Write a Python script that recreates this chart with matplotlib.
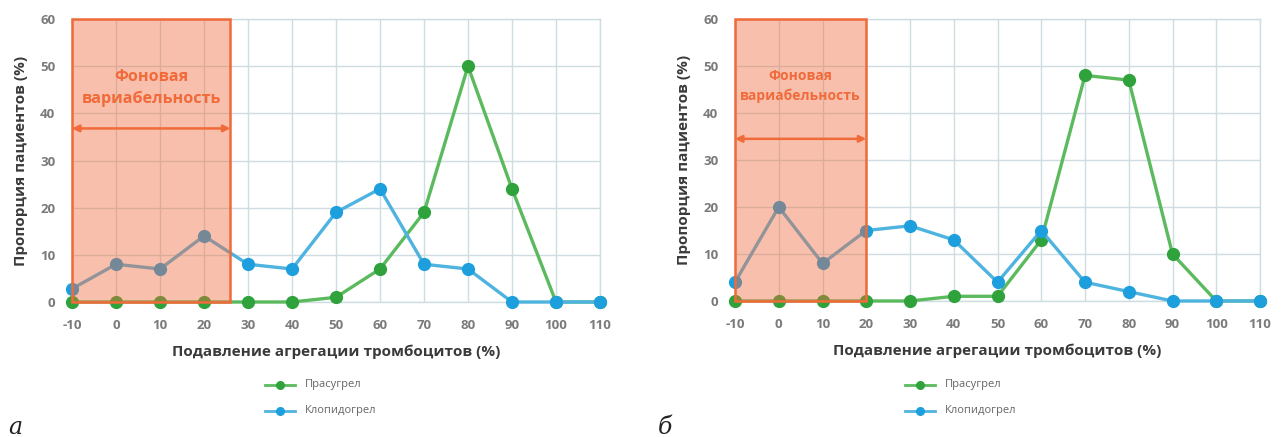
import matplotlib
matplotlib.use("Agg")
import matplotlib.pyplot as plt
from matplotlib.patches import Rectangle
from matplotlib.lines import Line2D

plt.rcParams['font.family'] = ['Open Sans', 'DejaVu Sans']
plt.rcParams['axes.unicode_minus'] = False

x_vals = [-10, 0, 10, 20, 30, 40, 50, 60, 70, 80, 90, 100, 110]
x_ticks = [-10, 0, 10, 20, 30, 40, 50, 60, 70, 80, 90, 100, 110]
y_ticks = [0, 10, 20, 30, 40, 50, 60]

prasugrel_a = [0, 0, 0, 0, 0, 0, 1, 7, 19, 50, 24, 0, 0]
clopidogrel_a = [2.8, 8, 7, 14, 8, 7, 19, 24, 8, 7, 0, 0, 0]
prasugrel_b = [0, 0, 0, 0, 0, 1, 1, 13, 48, 47, 10, 0, 0]
clopidogrel_b = [4, 20, 8, 15, 16, 13, 4, 15, 4, 2, 0, 0, 0]

bg_end_a = 26
bg_end_b = 20

series_names = ['Прасугрел', 'Клопидогрел']
panel_letters = ['а', 'б']
xlabel = 'Подавление агрегации тромбоцитов (%)'
ylabel = 'Пропорция пациентов (%)'
bg_text = 'Фоновая\nвариабельность'

green_line = '#5cba5e'
green_marker = '#2fa23b'
blue_line = '#4fb3e0'
blue_marker = '#1e9fdd'
orange = '#f06a3a'
grid_c = '#cfdde2'
tick_c = '#7a7a7a'
label_c = '#3a3a3a'

fig = plt.figure(figsize=(12.82, 4.37), dpi=100)

panels = [
    dict(rect=[72/1282, (437-302)/437, 528/1282, 283/437], pra=prasugrel_a, clo=clopidogrel_a,
         bg_end=bg_end_a, arrow_y=36.8, text_y=45.3, text_fs=11.6, leg_x=265, letter_x=8),
    dict(rect=[735/1282, (437-301)/437, 525/1282, 282/437], pra=prasugrel_b, clo=clopidogrel_b,
         bg_end=bg_end_b, arrow_y=34.5, text_y=45.7, text_fs=10, leg_x=905, letter_x=658),
]

for idx, p in enumerate(panels):
    ax = fig.add_axes(p['rect'])
    ax.set_xlim(-10, 110)
    ax.set_ylim(0, 60)
    ax.set_xticks(x_ticks)
    ax.set_yticks(y_ticks)
    ax.set_xticklabels([str(v) for v in x_ticks])
    ax.set_yticklabels([str(v) for v in y_ticks])
    ax.grid(True, color=grid_c, lw=1.0)
    ax.set_axisbelow(True)
    for s in ax.spines.values():
        s.set_color(grid_c)
        s.set_linewidth(1.0)
    ax.tick_params(length=0, colors=tick_c, labelsize=9.5)
    ax.tick_params(axis='x', pad=12)
    ax.tick_params(axis='y', pad=12)
    for lab in ax.get_xticklabels() + ax.get_yticklabels():
        lab.set_fontweight('bold')
    ax.set_xlabel(xlabel, fontsize=11, fontweight='bold', color=label_c, labelpad=9)
    ax.set_ylabel(ylabel, fontsize=11, fontweight='bold', color=label_c, labelpad=9)

    ax.plot(x_vals, p['pra'], color=green_line, lw=2.4, marker='o', ms=8.5,
            mfc=green_marker, mec=green_marker, clip_on=False, zorder=3)
    ax.plot(x_vals, p['clo'], color=blue_line, lw=2.4, marker='o', ms=8.5,
            mfc=blue_marker, mec=blue_marker, clip_on=False, zorder=4)

    ax.add_patch(Rectangle((-10, 0), p['bg_end'] + 10, 60, facecolor=orange, alpha=0.42,
                           edgecolor='none', zorder=5, clip_on=False))
    ax.add_patch(Rectangle((-10, 0), p['bg_end'] + 10, 60, facecolor='none',
                           edgecolor=orange, lw=1.8, zorder=6, clip_on=False))
    ax.annotate('', xy=(-10, p['arrow_y']), xytext=(p['bg_end'], p['arrow_y']),
                arrowprops=dict(arrowstyle='<|-|>', color=orange, lw=1.8,
                                mutation_scale=10, shrinkA=0, shrinkB=0), zorder=7)
    ax.text((p['bg_end'] - 10) / 2, p['text_y'], bg_text, ha='center', va='center',
            color=orange, fontsize=p['text_fs'], fontweight='bold', linespacing=1.5, zorder=7)

    # legend
    lx = p['leg_x']
    for i, (name, lc, mc) in enumerate([(series_names[0], green_line, green_marker),
                                         (series_names[1], blue_line, blue_marker)]):
        yy = 1 - (385 + 26 * i) / 437
        fig.add_artist(Line2D([lx / 1282, (lx + 30) / 1282], [yy, yy], color=lc, lw=2,
                              transform=fig.transFigure))
        fig.add_artist(Line2D([(lx + 15) / 1282], [yy], color=mc, marker='o', ms=5.5,
                              transform=fig.transFigure))
        fig.text((lx + 40) / 1282, yy, name, ha='left', va='center', fontsize=8,
                 color='#666666')

    fig.text(p['letter_x'] / 1282, 1 - 427 / 437, panel_letters[idx],
             ha='left', va='center', fontsize=17, family='DejaVu Serif', style='italic',
             color='#222222')

fig.savefig('out.png', dpi=100)
